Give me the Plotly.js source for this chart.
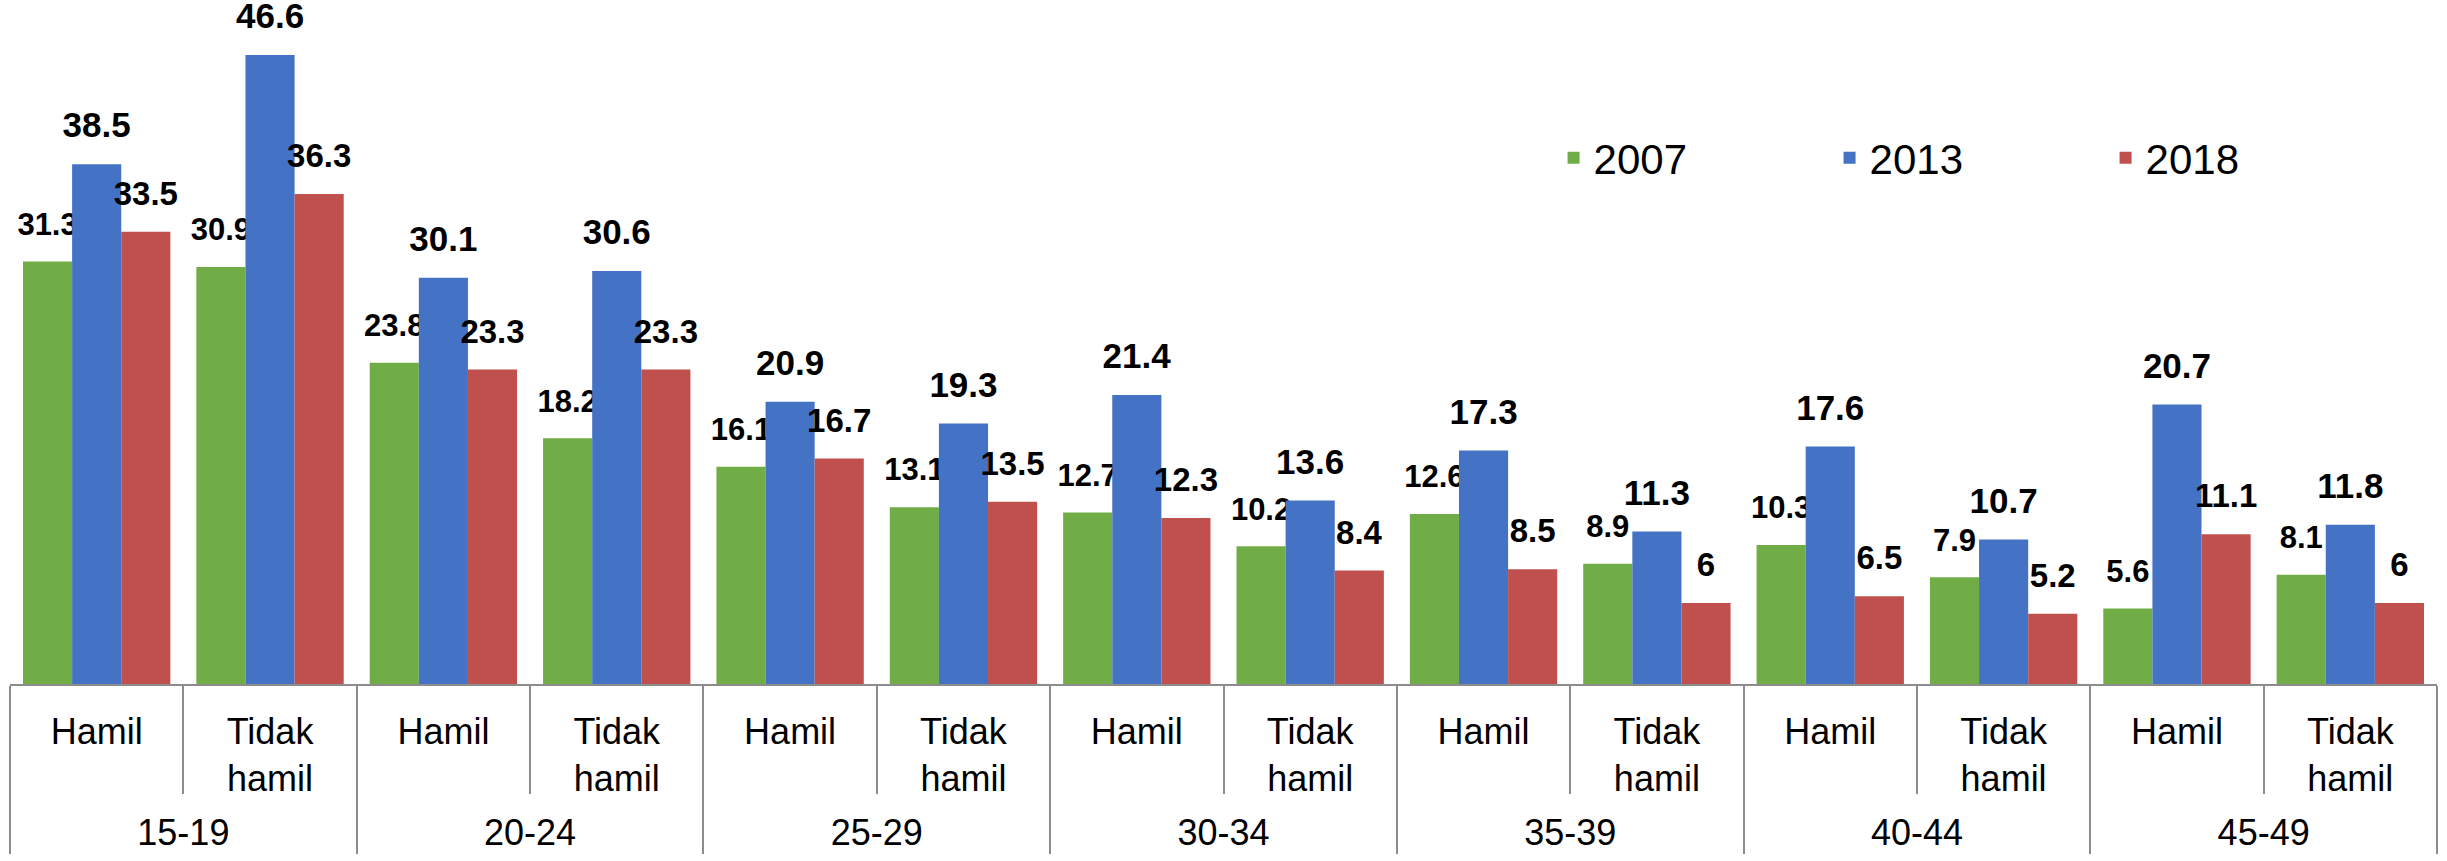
<!DOCTYPE html>
<html>
<head>
<meta charset="utf-8">
<script src="https://cdn.plot.ly/plotly-3.0.1.min.js"></script>
<style>html,body{margin:0;padding:0;background:#fff;}</style>
</head>
<body>
<div id="chart" style="width:2447px;height:861px;"></div>
<script>
const ageGroups = ["15-19","15-19","20-24","20-24","25-29","25-29","30-34","30-34","35-39","35-39","40-44","40-44","45-49","45-49"];
const subLabels = ["Hamil","Tidak hamil","Hamil","Tidak hamil","Hamil","Tidak hamil","Hamil","Tidak hamil","Hamil","Tidak hamil","Hamil","Tidak hamil","Hamil","Tidak hamil"];
const v2007 = [31.3,30.9,23.8,18.2,16.1,13.1,12.7,10.2,12.6,8.9,10.3,7.9,5.6,8.1];
const v2013 = [38.5,46.6,30.1,30.6,20.9,19.3,21.4,13.6,17.3,11.3,17.6,10.7,20.7,11.8];
const v2018 = [33.5,36.3,23.3,23.3,16.7,13.5,12.3,8.4,8.5,6,6.5,5.2,11.1,6];
const seriesNames = ["2007","2013","2018"];
const colors = ["#70AD47","#4472C4","#C0504D"];

const font = "'Liberation Sans', Arial, sans-serif";

// wrap the two-word label onto two lines; a wide invisible spacer deepens the second line
const bigSp = "<span style='font-size:102px'>&nbsp;</span>";
const status = subLabels.map(s => {
  const w = s.split(" ");
  return w.length > 1 ? w[0] + "<br>" + bigSp + w[1] + bigSp : s;
});

function mk(vals, i, size){
  return {
    type: "bar",
    name: seriesNames[i],
    x: [ageGroups, status],
    y: vals,
    marker: {color: colors[i]},
    text: vals.map(v => "<span style='font-size:" + size + "px'><b>" + v + "</b></span><br>&nbsp;"),
    textposition: "outside",
    constraintext: "none",
    cliponaxis: false,
    textfont: {family: font, size: 16, color: "#000"},
    hoverinfo: "y"
  };
}

const data = [mk(v2007,0,31), mk(v2013,1,35), mk(v2018,2,33)];

const layout = {
  width: 2447, height: 861,
  margin: {l: 10, r: 10, t: 0, b: 177},
  paper_bgcolor: "#fff", plot_bgcolor: "#fff",
  barmode: "group",
  bargap: 0.15,
  bargroupgap: 0,
  showlegend: true,
  legend: {orientation: "h", x: 0.636, y: 0.769, xanchor: "left", yanchor: "middle",
           font: {family: font, size: 42, color: "#000"},
           entrywidth: 231, entrywidthmode: "pixels", traceorder: "normal"},
  xaxis: {
    type: "multicategory",
    showline: true, linecolor: "#8c8c8c", linewidth: 2,
    showdividers: true, dividercolor: "#8c8c8c", dividerwidth: 2,
    ticks: "outside", tickson: "boundaries", ticklen: 108, tickcolor: "#8c8c8c", tickwidth: 2,
    ticklabelstandoff: 15,
    tickfont: {family: font, size: 36, color: "#000"},
    showgrid: false
  },
  yaxis: {range: [0, 50.67], visible: false, showgrid: false, zeroline: false}
};

Plotly.newPlot("chart", data, layout, {displayModeBar: false, staticPlot: true});
</script>
</body>
</html>
